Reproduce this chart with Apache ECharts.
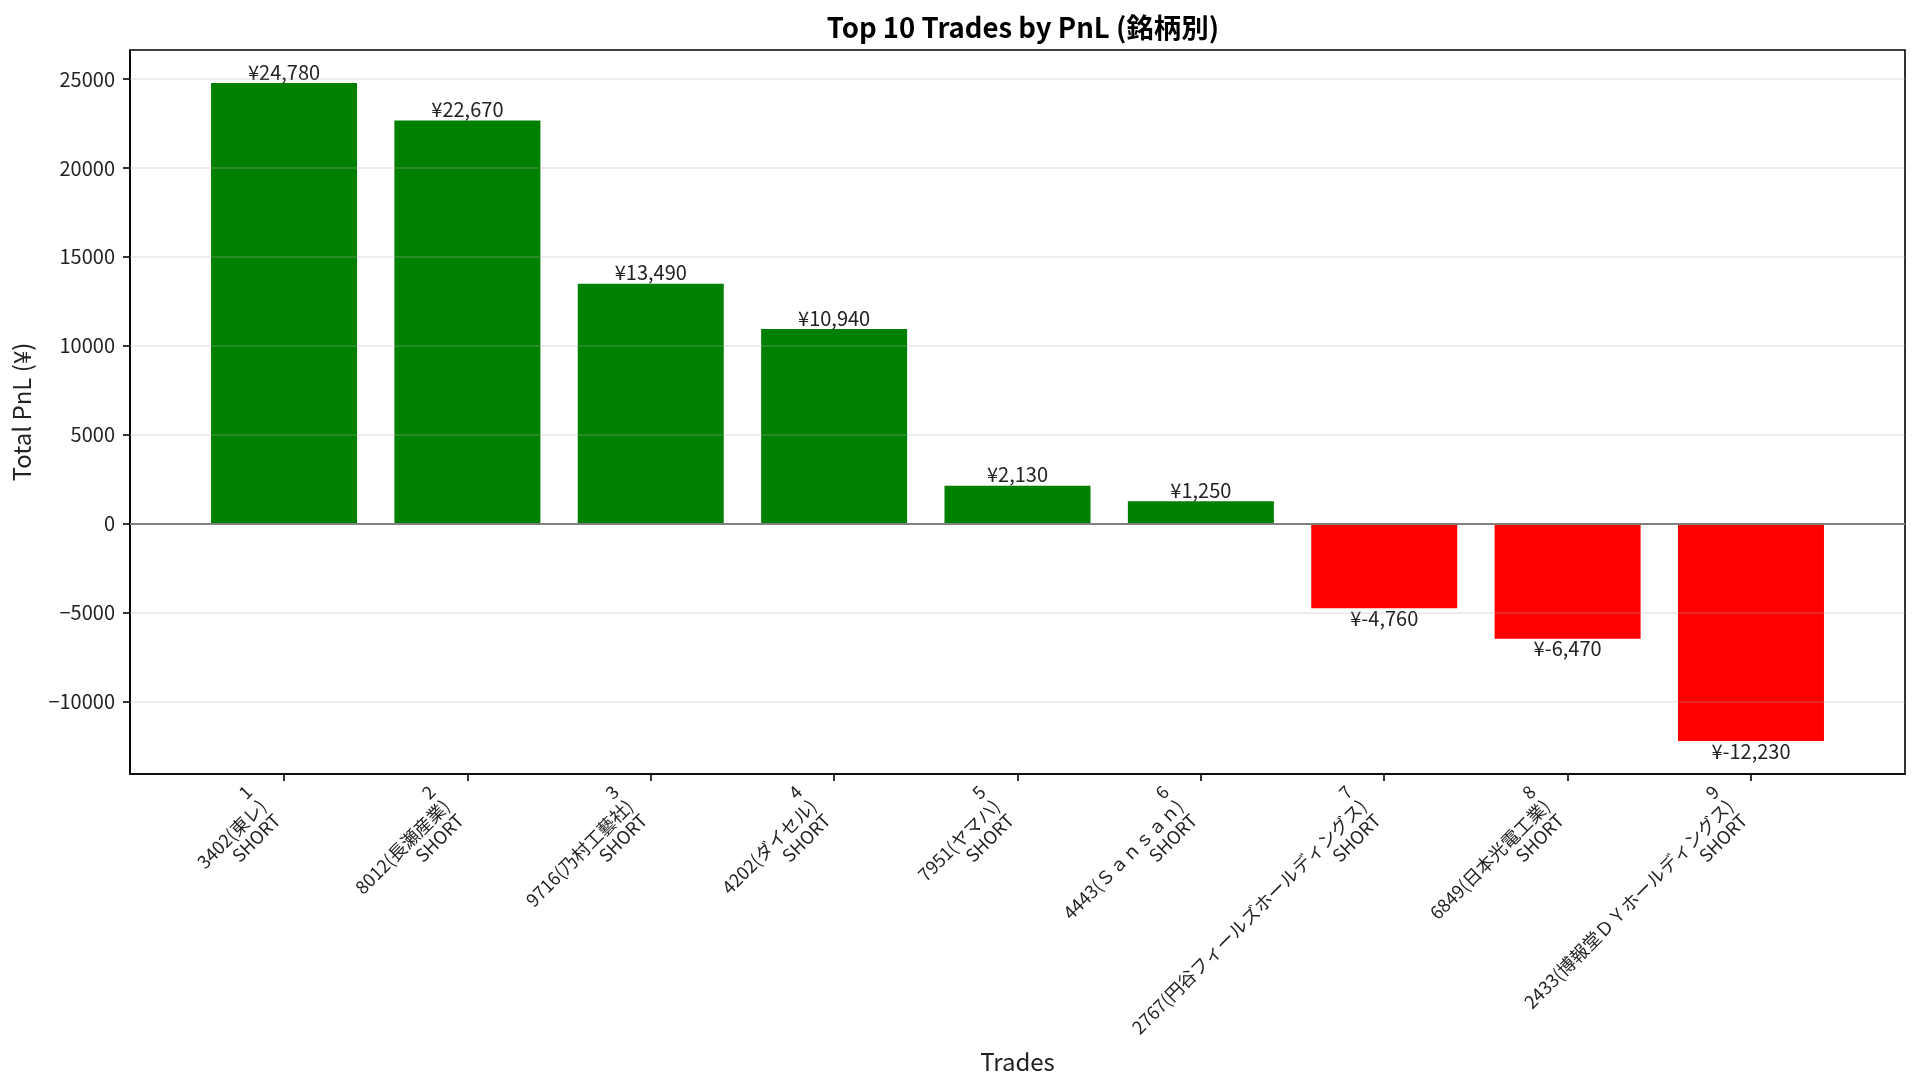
<!DOCTYPE html>
<html>
<head>
<meta charset="utf-8">
<script src="https://cdn.jsdelivr.net/npm/echarts@6/dist/echarts.min.js"></script>
<style>
  html, body { margin: 0; padding: 0; background: #fff; }
  #main { width: 1920px; height: 1089px; }
</style>
</head>
<body>
<div id="main"></div>
<script>
// ranks / tickers / side, top 10 by PnL (only 9 shown)
const ranks = [1, 2, 3, 4, 5, 6, 7, 8, 9];
const names = ['3402(東レ)', '8012(長瀬産業)', '9716(乃村工藝社)', '4202(ダイセル)', '7951(ヤマハ)',
    '4443(Ｓａｎｓａｎ)', '2767(円谷フィールズホールディングス)', '6849(日本光電工業)', '2433(博報堂ＤＹホールディングス)'];
const sides = ['SHORT', 'SHORT', 'SHORT', 'SHORT', 'SHORT', 'SHORT', 'SHORT', 'SHORT', 'SHORT'];
const pnl = [24780, 22670, 13490, 10940, 2130, 1250, -4760, -6470, -12230];
const yTicks = [-10000, -5000, 0, 5000, 10000, 15000, 20000, 25000];

const FONT = '"Noto Sans CJK JP", "Noto Sans", sans-serif';
const TXT = '#222';

const xPos = pnl.map((v, i) => i);
const xLabels = xPos.map(i => ranks[i] + '\n' + names[i] + '\n' + sides[i]);

// matplotlib style auto margins (5%)
const yRange = Math.max(...pnl) - Math.min(...pnl);
const yMin = Math.min(...pnl) - yRange * 0.05;
const yMax = Math.max(...pnl) + yRange * 0.05;
const xMin = -0.4 - 8.8 * 0.05;
const xMax = 8.4 + 8.8 * 0.05;

const fmtYen = v => '¥' + (v < 0 ? '-' : '') + Math.abs(v).toLocaleString('en-US');

const chart = echarts.init(document.getElementById('main'), null, {renderer: 'canvas'});

const option = {
    backgroundColor: '#fff',
    animation: false,
    title: {
        text: 'Top 10 Trades by PnL (銘柄別)',
        left: 1018,
        textAlign: 'center',
        top: 9,
        textStyle: {fontFamily: FONT, fontSize: 27.5, fontWeight: 'bold', color: '#000'}
    },
    grid: {
        left: 130, right: 15, top: 50, bottom: 315,
        outerBoundsMode: 'none',
        show: true, borderColor: '#000', borderWidth: 1.6, backgroundColor: 'transparent'
    },
    xAxis: {
        type: 'value',
        min: xMin,
        max: xMax,
        name: 'Trades',
        nameLocation: 'middle',
        nameGap: 276,
        nameMoveOverlap: false,
        nameTextStyle: {fontFamily: FONT, fontSize: 24, color: TXT},
        axisLine: {show: true, onZero: false, lineStyle: {color: '#000', width: 1.6}},
        axisTick: {show: true, length: 7, customValues: xPos, lineStyle: {color: '#000', width: 1.6}},
        splitLine: {show: false},
        axisLabel: {
            customValues: xPos,
            formatter: v => xLabels[Math.round(v)],
            rotate: 45,
            align: 'right',
            verticalAlign: 'bottom',
            margin: 50,
            fontFamily: FONT,
            fontSize: 18,
            lineHeight: 20,
            color: TXT
        }
    },
    yAxis: {
        type: 'value',
        min: yMin,
        max: yMax,
        name: 'Total PnL (¥)',
        nameLocation: 'middle',
        nameGap: 96,
        nameMoveOverlap: false,
        nameTextStyle: {fontFamily: FONT, fontSize: 24, color: TXT},
        axisLine: {show: true, onZero: false, lineStyle: {color: '#000', width: 1.6}},
        axisTick: {show: true, length: 7, customValues: yTicks, lineStyle: {color: '#000', width: 1.6}},
        splitLine: {show: false},
        axisLabel: {
            customValues: yTicks,
            formatter: v => (v < 0 ? '\u2212' + Math.abs(v) : String(v)),
            margin: 15,
            fontFamily: FONT,
            fontSize: 20,
            color: TXT
        }
    },
    series: [{
        type: 'bar',
        barWidth: 146,
        data: pnl.map((v, i) => ({
            value: [xPos[i], v],
            itemStyle: {color: v >= 0 ? '#008000' : '#ff0000'},
            label: {position: v >= 0 ? 'top' : 'bottom', distance: v >= 0 ? 1 : 0}
        })),
        label: {
            show: true,
            formatter: p => fmtYen(p.value[1]),
            fontFamily: FONT,
            fontSize: 20,
            color: TXT
        },
        markLine: {
            silent: true,
            symbol: 'none',
            label: {show: false},
            data: yTicks.map(t => ({
                yAxis: t,
                lineStyle: t === 0
                    ? {color: '#808080', width: 2, type: 'solid'}
                    : {color: 'rgba(176,176,176,0.3)', width: 1.6, type: 'solid'}
            }))
        }
    }]
};

chart.setOption(option);
</script>
</body>
</html>
